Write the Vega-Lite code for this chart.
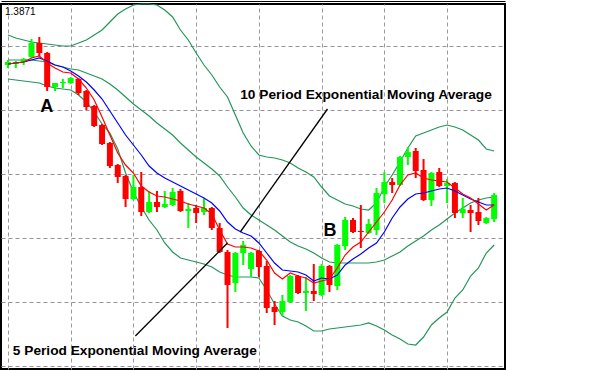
{
  "$schema": "https://vega.github.io/schema/vega-lite/v6.json",
  "width": 504,
  "height": 365,
  "autosize": {"type": "none"},
  "padding": {"left": 1, "top": 4, "right": 108, "bottom": 1},
  "background": "white",
  "config": {
    "view": {"stroke": "black", "strokeWidth": 2},
    "axis": {"labels": false, "ticks": false, "domain": false, "grid": true},
    "axisX": {"gridColor": "#9c9c9c", "gridDash": [4, 3], "gridWidth": 1},
    "axisY": {"gridColor": "#9c909c", "gridDash": [4, 3], "gridWidth": 1}
  },
  "datasets": {
    "bars": [
      {"i":0,"open":1.3810,"high":1.3815,"low":1.3807,"close":1.3813,"ema5":1.3811,"ema10":1.3811,"bbUpper":1.3840,"bbMiddle":1.3815,"bbLower":1.3796},
      {"i":1,"open":1.3811,"high":1.3814,"low":1.3807,"close":1.3813,"ema5":1.3812,"ema10":1.3812,"bbUpper":1.3837,"bbMiddle":1.3815,"bbLower":1.3795},
      {"i":2,"open":1.3813,"high":1.3817,"low":1.3810,"close":1.3816,"ema5":1.3813,"ema10":1.3813,"bbUpper":1.3835,"bbMiddle":1.3815,"bbLower":1.3794},
      {"i":3,"open":1.3818,"high":1.3836,"low":1.3817,"close":1.3832,"ema5":1.3817,"ema10":1.3815,"bbUpper":1.3833,"bbMiddle":1.3815,"bbLower":1.3793},
      {"i":4,"open":1.3832,"high":1.3838,"low":1.3819,"close":1.3822,"ema5":1.3819,"ema10":1.3817,"bbUpper":1.3832,"bbMiddle":1.3814,"bbLower":1.3792},
      {"i":5,"open":1.3822,"high":1.3823,"low":1.3784,"close":1.3788,"ema5":1.3812,"ema10":1.3814,"bbUpper":1.3831,"bbMiddle":1.3813,"bbLower":1.3789},
      {"i":6,"open":1.3788,"high":1.3792,"low":1.3784,"close":1.3792,"ema5":1.3807,"ema10":1.3810,"bbUpper":1.3830,"bbMiddle":1.3810,"bbLower":1.3787},
      {"i":7,"open":1.3792,"high":1.3796,"low":1.3787,"close":1.3793,"ema5":1.3803,"ema10":1.3808,"bbUpper":1.3829,"bbMiddle":1.3808,"bbLower":1.3786},
      {"i":8,"open":1.3792,"high":1.3798,"low":1.3791,"close":1.3797,"ema5":1.3802,"ema10":1.3804,"bbUpper":1.3829,"bbMiddle":1.3806,"bbLower":1.3785},
      {"i":9,"open":1.3796,"high":1.3797,"low":1.3780,"close":1.3782,"ema5":1.3796,"ema10":1.3799,"bbUpper":1.3832,"bbMiddle":1.3805,"bbLower":1.3780},
      {"i":10,"open":1.3784,"high":1.3785,"low":1.3765,"close":1.3768,"ema5":1.3787,"ema10":1.3793,"bbUpper":1.3835,"bbMiddle":1.3802,"bbLower":1.3773},
      {"i":11,"open":1.3769,"high":1.3770,"low":1.3748,"close":1.3749,"ema5":1.3775,"ema10":1.3785,"bbUpper":1.3840,"bbMiddle":1.3799,"bbLower":1.3763},
      {"i":12,"open":1.3750,"high":1.3751,"low":1.3730,"close":1.3731,"ema5":1.3758,"ema10":1.3776,"bbUpper":1.3845,"bbMiddle":1.3796,"bbLower":1.3751},
      {"i":13,"open":1.3732,"high":1.3733,"low":1.3707,"close":1.3709,"ema5":1.3740,"ema10":1.3764,"bbUpper":1.3853,"bbMiddle":1.3791,"bbLower":1.3742},
      {"i":14,"open":1.3710,"high":1.3711,"low":1.3692,"close":1.3698,"ema5":1.3722,"ema10":1.3752,"bbUpper":1.3861,"bbMiddle":1.3785,"bbLower":1.3726},
      {"i":15,"open":1.3699,"high":1.3700,"low":1.3668,"close":1.3676,"ema5":1.3710,"ema10":1.3740,"bbUpper":1.3866,"bbMiddle":1.3778,"bbLower":1.3702},
      {"i":16,"open":1.3676,"high":1.3700,"low":1.3675,"close":1.3688,"ema5":1.3702,"ema10":1.3730,"bbUpper":1.3870,"bbMiddle":1.3771,"bbLower":1.3683},
      {"i":17,"open":1.3688,"high":1.3703,"low":1.3659,"close":1.3663,"ema5":1.3689,"ema10":1.3720,"bbUpper":1.3871,"bbMiddle":1.3765,"bbLower":1.3668},
      {"i":18,"open":1.3663,"high":1.3684,"low":1.3662,"close":1.3673,"ema5":1.3683,"ema10":1.3709,"bbUpper":1.3871,"bbMiddle":1.3759,"bbLower":1.3655},
      {"i":19,"open":1.3673,"high":1.3684,"low":1.3663,"close":1.3668,"ema5":1.3679,"ema10":1.3702,"bbUpper":1.3870,"bbMiddle":1.3752,"bbLower":1.3645},
      {"i":20,"open":1.3668,"high":1.3684,"low":1.3667,"close":1.3671,"ema5":1.3678,"ema10":1.3697,"bbUpper":1.3865,"bbMiddle":1.3746,"bbLower":1.3632},
      {"i":21,"open":1.3670,"high":1.3687,"low":1.3669,"close":1.3683,"ema5":1.3676,"ema10":1.3693,"bbUpper":1.3858,"bbMiddle":1.3740,"bbLower":1.3623},
      {"i":22,"open":1.3684,"high":1.3686,"low":1.3663,"close":1.3664,"ema5":1.3674,"ema10":1.3689,"bbUpper":1.3845,"bbMiddle":1.3732,"bbLower":1.3617},
      {"i":23,"open":1.3664,"high":1.3672,"low":1.3647,"close":1.3666,"ema5":1.3671,"ema10":1.3685,"bbUpper":1.3835,"bbMiddle":1.3725,"bbLower":1.3615},
      {"i":24,"open":1.3667,"high":1.3670,"low":1.3652,"close":1.3662,"ema5":1.3669,"ema10":1.3681,"bbUpper":1.3822,"bbMiddle":1.3718,"bbLower":1.3613},
      {"i":25,"open":1.3663,"high":1.3677,"low":1.3660,"close":1.3667,"ema5":1.3667,"ema10":1.3677,"bbUpper":1.3810,"bbMiddle":1.3712,"bbLower":1.3611},
      {"i":26,"open":1.3667,"high":1.3668,"low":1.3645,"close":1.3647,"ema5":1.3661,"ema10":1.3672,"bbUpper":1.3800,"bbMiddle":1.3706,"bbLower":1.3608},
      {"i":27,"open":1.3647,"high":1.3652,"low":1.3622,"close":1.3623,"ema5":1.3645,"ema10":1.3664,"bbUpper":1.3788,"bbMiddle":1.3699,"bbLower":1.3603},
      {"i":28,"open":1.3623,"high":1.3625,"low":1.3547,"close":1.3590,"ema5":1.3631,"ema10":1.3653,"bbUpper":1.3778,"bbMiddle":1.3688,"bbLower":1.3600},
      {"i":29,"open":1.3592,"high":1.3623,"low":1.3583,"close":1.3622,"ema5":1.3628,"ema10":1.3646,"bbUpper":1.3760,"bbMiddle":1.3678,"bbLower":1.3598},
      {"i":30,"open":1.3622,"high":1.3634,"low":1.3610,"close":1.3630,"ema5":1.3628,"ema10":1.3642,"bbUpper":1.3742,"bbMiddle":1.3667,"bbLower":1.3598},
      {"i":31,"open":1.3606,"high":1.3623,"low":1.3598,"close":1.3622,"ema5":1.3627,"ema10":1.3639,"bbUpper":1.3729,"bbMiddle":1.3660,"bbLower":1.3598},
      {"i":32,"open":1.3624,"high":1.3625,"low":1.3598,"close":1.3608,"ema5":1.3624,"ema10":1.3632,"bbUpper":1.3720,"bbMiddle":1.3655,"bbLower":1.3597},
      {"i":33,"open":1.3609,"high":1.3614,"low":1.3562,"close":1.3567,"ema5":1.3615,"ema10":1.3622,"bbUpper":1.3718,"bbMiddle":1.3650,"bbLower":1.3585},
      {"i":34,"open":1.3568,"high":1.3574,"low":1.3550,"close":1.3563,"ema5":1.3602,"ema10":1.3612,"bbUpper":1.3717,"bbMiddle":1.3645,"bbLower":1.3571},
      {"i":35,"open":1.3563,"high":1.3580,"low":1.3559,"close":1.3574,"ema5":1.3596,"ema10":1.3605,"bbUpper":1.3715,"bbMiddle":1.3639,"bbLower":1.3559},
      {"i":36,"open":1.3573,"high":1.3600,"low":1.3572,"close":1.3599,"ema5":1.3602,"ema10":1.3604,"bbUpper":1.3712,"bbMiddle":1.3633,"bbLower":1.3555},
      {"i":37,"open":1.3599,"high":1.3600,"low":1.3581,"close":1.3582,"ema5":1.3599,"ema10":1.3603,"bbUpper":1.3707,"bbMiddle":1.3629,"bbLower":1.3553},
      {"i":38,"open":1.3582,"high":1.3598,"low":1.3564,"close":1.3584,"ema5":1.3597,"ema10":1.3600,"bbUpper":1.3703,"bbMiddle":1.3626,"bbLower":1.3549},
      {"i":39,"open":1.3584,"high":1.3611,"low":1.3574,"close":1.3581,"ema5":1.3592,"ema10":1.3594,"bbUpper":1.3698,"bbMiddle":1.3622,"bbLower":1.3544},
      {"i":40,"open":1.3580,"high":1.3611,"low":1.3579,"close":1.3609,"ema5":1.3594,"ema10":1.3597,"bbUpper":1.3688,"bbMiddle":1.3617,"bbLower":1.3544},
      {"i":41,"open":1.3609,"high":1.3610,"low":1.3583,"close":1.3590,"ema5":1.3596,"ema10":1.3596,"bbUpper":1.3679,"bbMiddle":1.3613,"bbLower":1.3546},
      {"i":42,"open":1.3589,"high":1.3631,"low":1.3585,"close":1.3630,"ema5":1.3607,"ema10":1.3600,"bbUpper":1.3675,"bbMiddle":1.3612,"bbLower":1.3547},
      {"i":43,"open":1.3629,"high":1.3658,"low":1.3625,"close":1.3655,"ema5":1.3620,"ema10":1.3610,"bbUpper":1.3671,"bbMiddle":1.3612,"bbLower":1.3548},
      {"i":44,"open":1.3655,"high":1.3657,"low":1.3642,"close":1.3643,"ema5":1.3628,"ema10":1.3616,"bbUpper":1.3669,"bbMiddle":1.3612,"bbLower":1.3549},
      {"i":45,"open":1.3644,"high":1.3670,"low":1.3627,"close":1.3643,"ema5":1.3633,"ema10":1.3621,"bbUpper":1.3666,"bbMiddle":1.3612,"bbLower":1.3550},
      {"i":46,"open":1.3642,"high":1.3656,"low":1.3641,"close":1.3651,"ema5":1.3643,"ema10":1.3627,"bbUpper":1.3665,"bbMiddle":1.3612,"bbLower":1.3552},
      {"i":47,"open":1.3645,"high":1.3687,"low":1.3640,"close":1.3682,"ema5":1.3653,"ema10":1.3632,"bbUpper":1.3672,"bbMiddle":1.3613,"bbLower":1.3549},
      {"i":48,"open":1.3681,"high":1.3703,"low":1.3672,"close":1.3693,"ema5":1.3663,"ema10":1.3643,"bbUpper":1.3688,"bbMiddle":1.3615,"bbLower":1.3545},
      {"i":49,"open":1.3693,"high":1.3697,"low":1.3682,"close":1.3690,"ema5":1.3675,"ema10":1.3657,"bbUpper":1.3700,"bbMiddle":1.3619,"bbLower":1.3540},
      {"i":50,"open":1.3690,"high":1.3719,"low":1.3689,"close":1.3718,"ema5":1.3690,"ema10":1.3668,"bbUpper":1.3713,"bbMiddle":1.3623,"bbLower":1.3536},
      {"i":51,"open":1.3718,"high":1.3728,"low":1.3710,"close":1.3723,"ema5":1.3700,"ema10":1.3676,"bbUpper":1.3727,"bbMiddle":1.3629,"bbLower":1.3531},
      {"i":52,"open":1.3724,"high":1.3727,"low":1.3697,"close":1.3704,"ema5":1.3702,"ema10":1.3681,"bbUpper":1.3739,"bbMiddle":1.3634,"bbLower":1.3530},
      {"i":53,"open":1.3705,"high":1.3716,"low":1.3674,"close":1.3675,"ema5":1.3697,"ema10":1.3682,"bbUpper":1.3742,"bbMiddle":1.3639,"bbLower":1.3538},
      {"i":54,"open":1.3675,"high":1.3703,"low":1.3669,"close":1.3702,"ema5":1.3695,"ema10":1.3684,"bbUpper":1.3745,"bbMiddle":1.3645,"bbLower":1.3550},
      {"i":55,"open":1.3703,"high":1.3707,"low":1.3688,"close":1.3689,"ema5":1.3694,"ema10":1.3686,"bbUpper":1.3748,"bbMiddle":1.3650,"bbLower":1.3557},
      {"i":56,"open":1.3689,"high":1.3696,"low":1.3672,"close":1.3692,"ema5":1.3693,"ema10":1.3687,"bbUpper":1.3750,"bbMiddle":1.3656,"bbLower":1.3563},
      {"i":57,"open":1.3692,"high":1.3693,"low":1.3657,"close":1.3662,"ema5":1.3687,"ema10":1.3684,"bbUpper":1.3748,"bbMiddle":1.3662,"bbLower":1.3577},
      {"i":58,"open":1.3662,"high":1.3677,"low":1.3657,"close":1.3666,"ema5":1.3681,"ema10":1.3680,"bbUpper":1.3745,"bbMiddle":1.3667,"bbLower":1.3585},
      {"i":59,"open":1.3665,"high":1.3670,"low":1.3643,"close":1.3662,"ema5":1.3677,"ema10":1.3676,"bbUpper":1.3740,"bbMiddle":1.3672,"bbLower":1.3599},
      {"i":60,"open":1.3663,"high":1.3677,"low":1.3650,"close":1.3654,"ema5":1.3671,"ema10":1.3673,"bbUpper":1.3735,"bbMiddle":1.3675,"bbLower":1.3607},
      {"i":61,"open":1.3652,"high":1.3658,"low":1.3651,"close":1.3657,"ema5":1.3665,"ema10":1.3670,"bbUpper":1.3726,"bbMiddle":1.3677,"bbLower":1.3622},
      {"i":62,"open":1.3656,"high":1.3682,"low":1.3653,"close":1.3680,"ema5":1.3670,"ema10":1.3670,"bbUpper":1.3724,"bbMiddle":1.3678,"bbLower":1.3630}
    ]
  },
  "data": {"name": "bars"},
  "layer": [
    {
      "mark": {"type": "line", "color": "#24955a", "strokeWidth": 1.2},
      "encoding": {
        "x": {"field": "i", "type": "quantitative", "title": null,
              "scale": {"domain": [-0.25, 62.75], "nice": false, "zero": false},
              "axis": {"orient": "top", "offset": 3, "domain": true, "domainColor": "black", "domainWidth": 1,
                       "values": [0, 4, 8, 12, 16, 20, 24, 28, 32, 36, 40, 44, 48, 52, 56, 60]}},
        "y": {"field": "bbUpper", "type": "quantitative", "title": null,
              "scale": {"domain": [1.3506, 1.3871], "nice": false, "zero": false},
              "axis": {"values": [1.3861, 1.3829, 1.3797, 1.3765, 1.3733, 1.3701, 1.3669, 1.3637, 1.3605, 1.3573, 1.3541, 1.3509]}}
      }
    },
    {
      "mark": {"type": "line", "color": "#24955a", "strokeWidth": 1.2},
      "encoding": {
        "x": {"field": "i", "type": "quantitative", "title": null},
        "y": {"field": "bbMiddle", "type": "quantitative", "title": null}
      }
    },
    {
      "mark": {"type": "line", "color": "#24955a", "strokeWidth": 1.2},
      "encoding": {
        "x": {"field": "i", "type": "quantitative", "title": null},
        "y": {"field": "bbLower", "type": "quantitative", "title": null}
      }
    },
    {
      "mark": {"type": "rule", "strokeWidth": 2},
      "encoding": {
        "x": {"field": "i", "type": "quantitative", "title": null},
        "y": {"field": "low", "type": "quantitative", "title": null},
        "y2": {"field": "high"},
        "color": {"condition": {"test": "datum.close >= datum.open", "value": "#00ff00"}, "value": "#ff0000"}
      }
    },
    {
      "mark": {"type": "bar", "size": 6},
      "encoding": {
        "x": {"field": "i", "type": "quantitative", "title": null},
        "y": {"field": "open", "type": "quantitative", "title": null},
        "y2": {"field": "close"},
        "color": {"condition": {"test": "datum.close >= datum.open", "value": "#00ff00"}, "value": "#ff0000"}
      }
    },
    {
      "mark": {"type": "line", "color": "#0000ff", "strokeWidth": 1.2},
      "encoding": {
        "x": {"field": "i", "type": "quantitative", "title": null},
        "y": {"field": "ema10", "type": "quantitative", "title": null}
      }
    },
    {
      "mark": {"type": "line", "color": "#ff0000", "strokeWidth": 1.2},
      "encoding": {
        "x": {"field": "i", "type": "quantitative", "title": null},
        "y": {"field": "ema5", "type": "quantitative", "title": null}
      }
    },
    {
      "data": {"values": [
        {"i": 40.75, "price": 1.3766, "i2": 29.625, "price2": 1.3643},
        {"i": 16.25, "price": 1.3539, "i2": 28, "price2": 1.3632}
      ]},
      "mark": {"type": "rule", "color": "black", "strokeWidth": 1.3},
      "encoding": {
        "x": {"field": "i", "type": "quantitative", "title": null},
        "y": {"field": "price", "type": "quantitative", "title": null},
        "x2": {"field": "i2"},
        "y2": {"field": "price2"}
      }
    },
    {
      "data": {"values": [
        {"label": "10 Period Exponential Moving Average", "i": 29.625, "price": 1.3776},
        {"label": "5 Period Exponential Moving Average", "i": 0.625, "price": 1.3520}
      ]},
      "mark": {"type": "text", "align": "left", "baseline": "alphabetic", "font": "Liberation Sans", "fontSize": 13.7, "fontWeight": "bold", "color": "black"},
      "encoding": {
        "x": {"field": "i", "type": "quantitative", "title": null},
        "y": {"field": "price", "type": "quantitative", "title": null},
        "text": {"field": "label"}
      }
    },
    {
      "data": {"values": [
        {"label": "A", "i": 4.94, "price": 1.3763},
        {"label": "B", "i": 41.06, "price": 1.3639}
      ]},
      "mark": {"type": "text", "align": "center", "baseline": "alphabetic", "font": "Liberation Sans", "fontSize": 18, "fontWeight": "bold", "color": "black"},
      "encoding": {
        "x": {"field": "i", "type": "quantitative", "title": null},
        "y": {"field": "price", "type": "quantitative", "title": null},
        "text": {"field": "label"}
      }
    },
    {
      "data": {"values": [
        {"label": "1.3871", "i": -0.375, "price": 1.3860}
      ]},
      "mark": {"type": "text", "align": "left", "baseline": "alphabetic", "font": "Liberation Sans", "fontSize": 10, "color": "black"},
      "encoding": {
        "x": {"field": "i", "type": "quantitative", "title": null},
        "y": {"field": "price", "type": "quantitative", "title": null},
        "text": {"field": "label"}
      }
    }
  ]
}
